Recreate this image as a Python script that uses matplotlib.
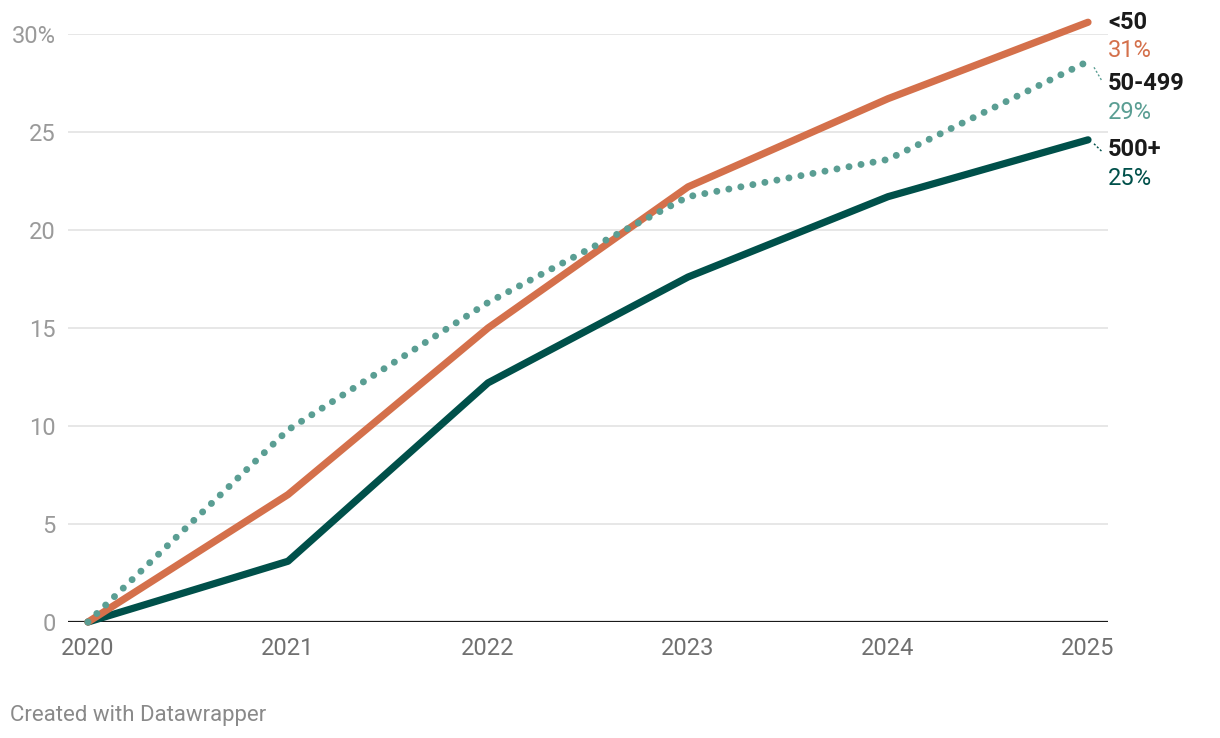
import matplotlib.pyplot as plt

plt.rcParams['font.family'] = ['Roboto', 'DejaVu Sans']

# Datos
anios = [2020, 2021, 2022, 2023, 2024, 2025]
menos_50 = [0, 6.5, 15.0, 22.2, 26.7, 30.6]
de_50_499 = [0, 9.8, 16.3, 21.7, 23.6, 28.6]
mas_500 = [0, 3.1, 12.2, 17.6, 21.7, 24.6]
etiquetas = ['<50', '50-499', '500+']
valores_fin = ['31%', '29%', '25%']

naranja = '#d4704b'
verde_claro = '#5a9e93'
verde_oscuro = '#00504a'

fig = plt.figure(figsize=(12.2, 7.38), dpi=100)
ax = fig.add_axes([68 / 1220, 116 / 738, 1040 / 1220, 588 / 738])

ax.set_xlim(2019.9, 2025.1)
ax.set_ylim(0, 30)

for y in [5, 10, 15, 20, 25, 30]:
    ax.axhline(y, color='#e3e3e3', lw=1.2, zorder=0)
ax.axhline(0, color='#1a1a1a', lw=1.6, zorder=1)

ax.plot(anios, mas_500, color=verde_oscuro, lw=5.2, solid_capstyle='round',
        solid_joinstyle='round', clip_on=False, zorder=3)
ax.plot(anios, menos_50, color=naranja, lw=5.2, solid_capstyle='round',
        solid_joinstyle='round', clip_on=False, zorder=4)
ax.plot(anios, de_50_499, color=verde_claro, lw=5.0, linestyle=(0, (0.01, 1.75)),
        dash_capstyle='round', clip_on=False, zorder=5)

for s in ax.spines.values():
    s.set_visible(False)

ax.set_yticks([0, 5, 10, 15, 20, 25, 30])
ax.set_yticklabels(['0', '5', '10', '15', '20', '25', '30%'])
ax.set_xticks(anios)
ax.set_xticklabels([str(a) for a in anios])
ax.tick_params(axis='y', length=0, pad=9, labelsize=17, labelcolor='#9a9a9a')
ax.tick_params(axis='x', length=0, pad=11, labelsize=17, labelcolor='#707070')

# Etiquetas a la derecha
xt = 2025.1
pos_nombre = [30.6, 27.45, 24.1]
colores = [naranja, verde_claro, verde_oscuro]
for nombre, val, yn, c in zip(etiquetas, valores_fin, pos_nombre, colores):
    ax.text(xt, yn, nombre, fontsize=17, fontweight='bold', color='#1a1a1a',
            va='center', ha='left', clip_on=False)
    ax.text(xt, yn - 1.45, val, fontsize=17, color=c, va='center', ha='left', clip_on=False)

# Conectores
ax.plot([2025.03, 2025.07], [28.3, 27.6], color=verde_claro, lw=1, ls=(0, (1.5, 1.5)), clip_on=False)
ax.plot([2025.03, 2025.07], [24.4, 24.0], color=verde_oscuro, lw=1, ls=(0, (1.5, 1.5)), clip_on=False)

fig.text(10 / 1220, 1 - 715 / 738, 'Created with Datawrapper', fontsize=16,
         color='#8a8a8a', va='center', ha='left')

fig.savefig('out.png', dpi=100)
